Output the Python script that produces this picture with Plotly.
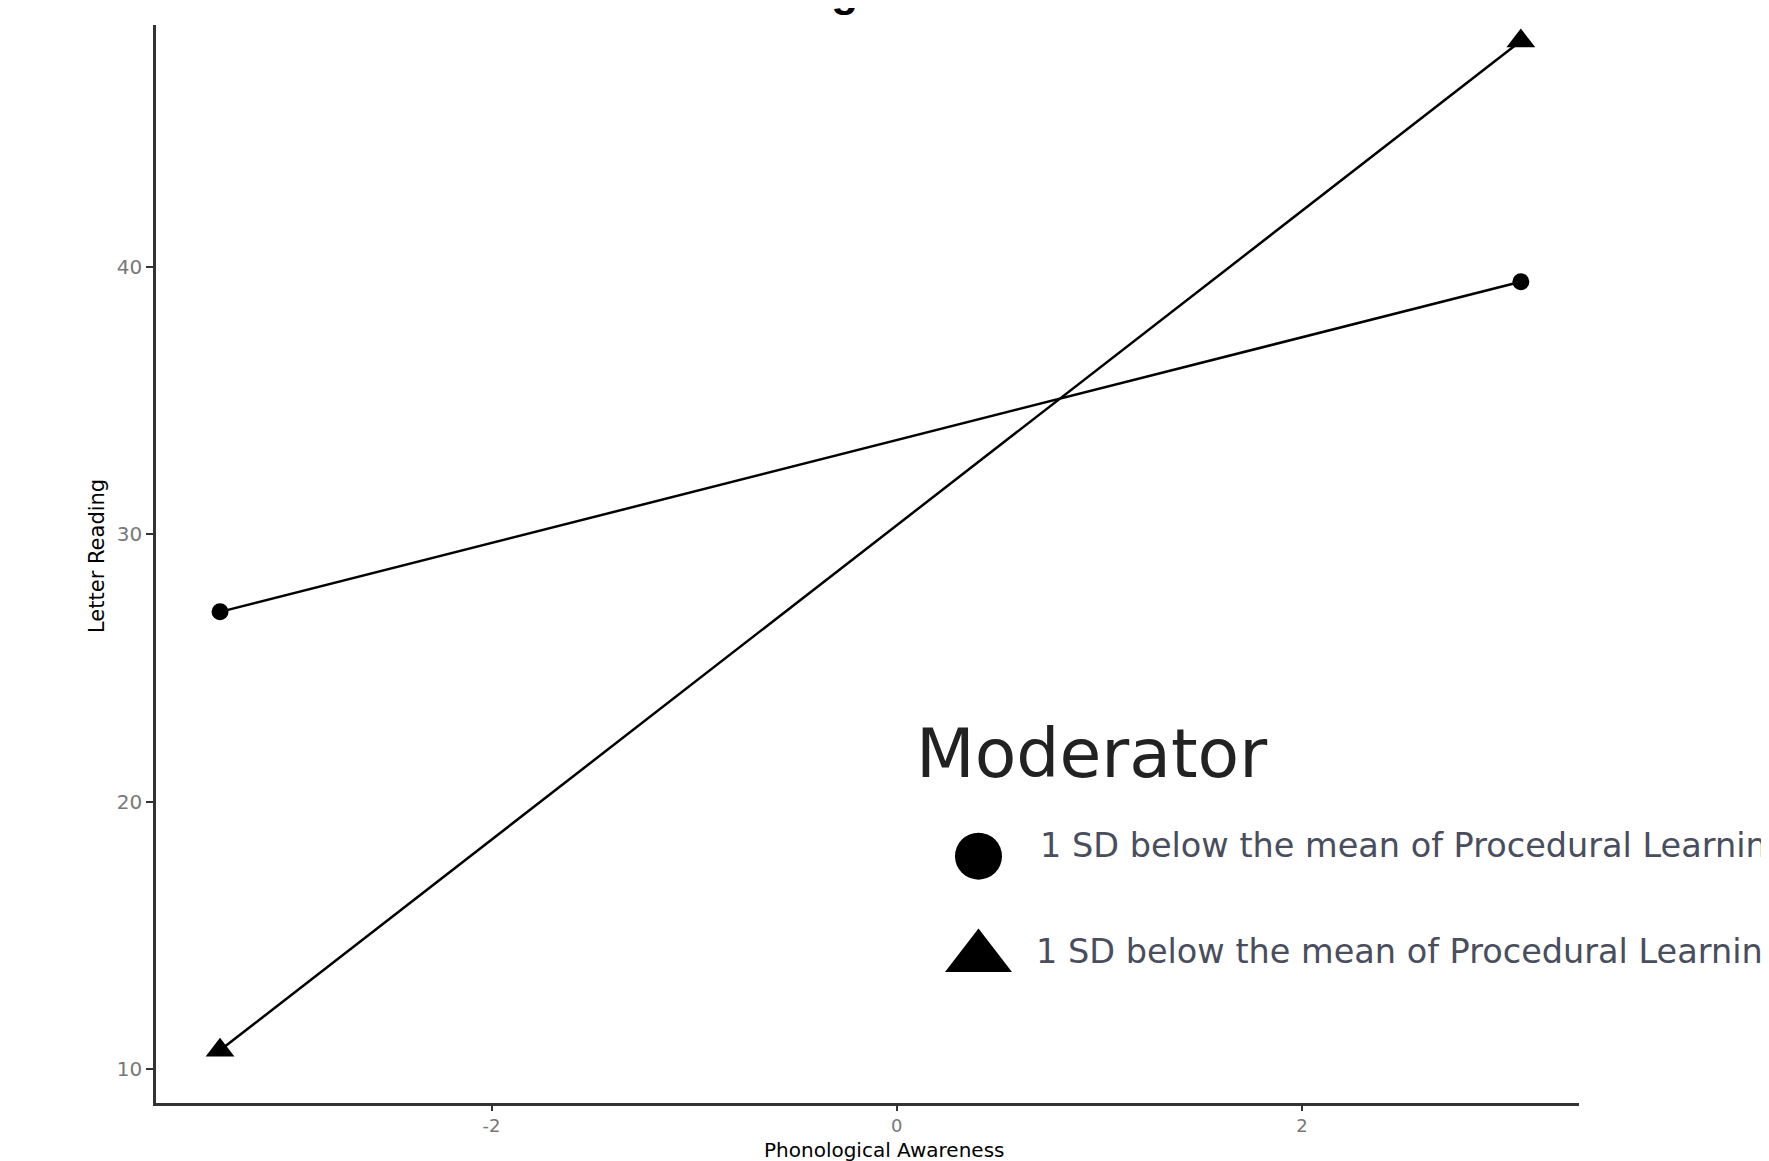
import plotly.graph_objects as go

# Data
x_pa = [-3.34, 3.08]
y_circle = [27.1, 39.45]
y_triangle = [10.7, 48.45]

x_ticks = [-2, 0, 2]
y_ticks = [10, 20, 30, 40]

x_title = "Phonological Awareness"
y_title = "Letter Reading"
legend_title = "Moderator"
legend_labels = ["1 SD below the mean of Procedural Learning",
                 "1 SD below the mean of Procedural Learning"]

# page has an 8px body margin, so the figure is 8px smaller than the window
W, H = 1761, 1153
fig = go.Figure()

fig.add_trace(go.Scatter(x=x_pa, y=y_circle, mode="lines+markers",
                         line=dict(color="black", width=2.5),
                         marker=dict(symbol="circle", size=17, color="black"),
                         showlegend=False))
fig.add_trace(go.Scatter(x=x_pa, y=y_triangle, mode="lines+markers",
                         line=dict(color="black", width=2.5),
                         marker=dict(symbol="triangle-up", size=25, color="black"),
                         showlegend=False))

# Custom legend symbols on a hidden overlay axis (paper-fraction coordinates)
fig.add_trace(go.Scatter(x=[0.578], y=[0.229], mode="markers", xaxis="x2", yaxis="y2",
                         marker=dict(symbol="circle", size=47, color="black"),
                         showlegend=False, hoverinfo="skip"))
fig.add_trace(go.Scatter(x=[0.578], y=[0.135], mode="markers", xaxis="x2", yaxis="y2",
                         marker=dict(symbol="triangle-up", size=58, color="black"),
                         showlegend=False, hoverinfo="skip"))

FONT = "DejaVu Sans, Arial"
annotations = [
    dict(text=legend_title, x=0.533, y=0.324, xref="paper", yref="paper",
         xanchor="left", yanchor="middle", showarrow=False,
         font=dict(family=FONT, size=68, color="#222222")),
    dict(text=legend_labels[0], x=0.620, y=0.239, xref="paper", yref="paper",
         xanchor="left", yanchor="middle", showarrow=False,
         font=dict(family=FONT, size=33.5, color="#4a4d5c")),
    dict(text=legend_labels[1], x=0.617, y=0.141, xref="paper", yref="paper",
         xanchor="left", yanchor="middle", showarrow=False,
         font=dict(family=FONT, size=33.5, color="#4a4d5c")),
    dict(text=x_title, x=(884 - 156) / 1423, y=-(1150 - 1103) / 1078,
         xref="paper", yref="paper", xanchor="center", yanchor="middle", showarrow=False,
         font=dict(family=FONT, size=20, color="black")),
    dict(text=y_title, x=(97 - 156) / 1423, y=(1103 - 556) / 1078, textangle=-90,
         xref="paper", yref="paper", xanchor="center", yanchor="middle", showarrow=False,
         font=dict(family=FONT, size=21, color="black")),
    # title, almost entirely cut off above the page
    dict(text="<b>Letter Reading</b>", x=(860 - 156) / 1423, y=1 + (17 - 9) / 1078,
         xref="paper", yref="paper", xanchor="right", yanchor="bottom", showarrow=False,
         font=dict(family="Liberation Sans, Arial", size=44, color="black")),
]

axis_common = dict(showgrid=False, zeroline=False, showline=True, linecolor="#333333",
                   linewidth=2.5, ticks="outside", tickwidth=1.5,
                   tickcolor="#333333")

fig.update_layout(
    width=W, height=H,
    margin=dict(l=148, r=190, t=17, b=58),
    paper_bgcolor="white", plot_bgcolor="white",
    showlegend=False,
    annotations=annotations,
    xaxis=dict(range=[-3.656, 3.367], tickvals=x_ticks,
               ticktext=[str(v) for v in x_ticks], ticklen=5,
               tickfont=dict(family=FONT, size=18, color="#777777"), **axis_common),
    yaxis=dict(range=[8.73, 49.05], tickvals=y_ticks,
               ticktext=[str(v) for v in y_ticks], ticklen=7,
               tickfont=dict(family=FONT, size=20, color="#777777"), **axis_common),
    xaxis2=dict(domain=[0, 1], range=[0, 1], visible=False, anchor="y2", overlaying="x"),
    yaxis2=dict(domain=[0, 1], range=[0, 1], visible=False, anchor="x2", overlaying="y"),
)

fig.write_html("out.html")
